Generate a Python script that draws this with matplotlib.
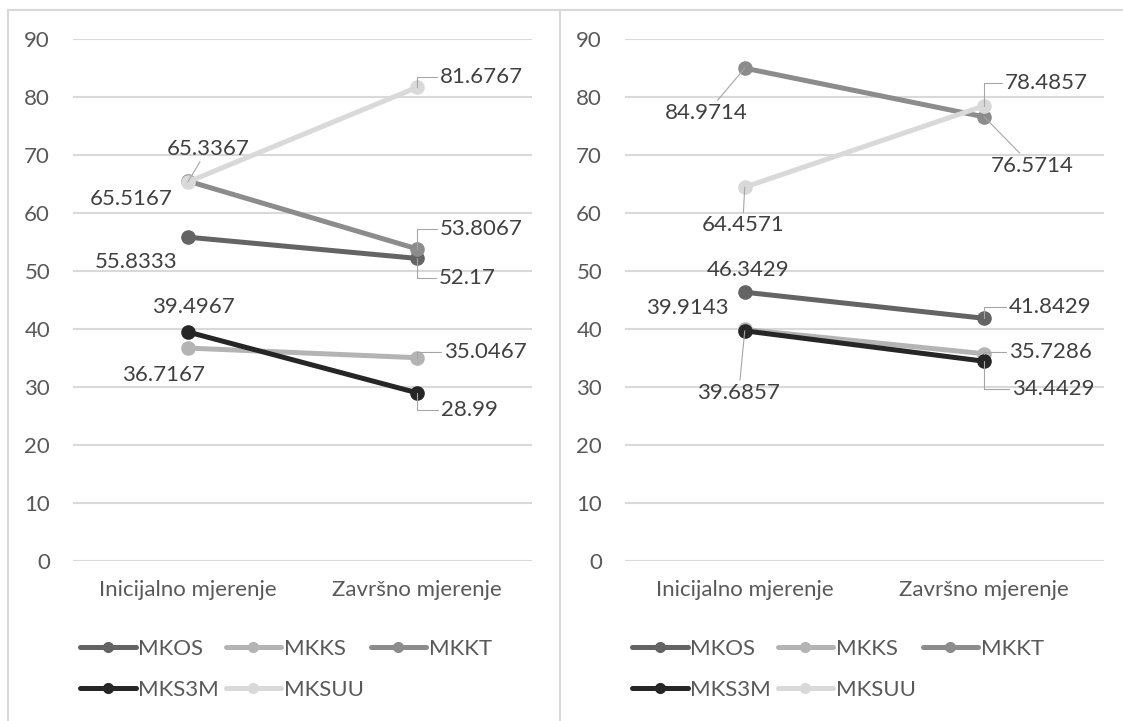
import matplotlib.pyplot as plt
from matplotlib.lines import Line2D

plt.rcParams['font.family'] = ['Lato', 'DejaVu Sans']

categories = ['Inicijalno mjerenje', 'Završno mjerenje']
series = ['MKOS', 'MKKS', 'MKKT', 'MKS3M', 'MKSUU']

left_values = {
    'MKOS': [55.8333, 52.17],
    'MKKS': [36.7167, 35.0467],
    'MKKT': [65.5167, 53.8067],
    'MKS3M': [39.4967, 28.99],
    'MKSUU': [65.3367, 81.6767],
}
right_values = {
    'MKOS': [46.3429, 41.8429],
    'MKKS': [39.9143, 35.7286],
    'MKKT': [84.9714, 76.5714],
    'MKS3M': [39.6857, 34.4429],
    'MKSUU': [64.4571, 78.4857],
}

colors = {
    'MKOS': '#646464',
    'MKKS': '#b4b4b4',
    'MKKT': '#8c8c8c',
    'MKS3M': '#262626',
    'MKSUU': '#d9d9d9',
}

# label placement: (dx, dy) in pixels from the point, leader style
left_labels = {
    ('MKOS', 0): (-52, -25, None),
    ('MKKS', 0): (-24, -27, None),
    ('MKKT', 0): (-57, -18, None),
    ('MKS3M', 0): (6, 25, None),
    ('MKSUU', 0): (20, 33, 'line'),
    ('MKOS', 1): (50, -20, 'elbow'),
    ('MKKS', 1): (68, 6, 'elbow'),
    ('MKKT', 1): (64, 20, 'elbow'),
    ('MKS3M', 1): (52, -17, 'elbow'),
    ('MKSUU', 1): (64, 10, 'elbow'),
}
right_labels = {
    ('MKOS', 0): (3, 22, None),
    ('MKKS', 0): (-57, 21, None),
    ('MKKT', 0): (-38, -45, 'line'),
    ('MKS3M', 0): (-6, -62, 'line'),
    ('MKSUU', 0): (-2, -38, 'line'),
    ('MKOS', 1): (66, 11, 'elbow'),
    ('MKKS', 1): (66, 2, 'elbow'),
    ('MKKT', 1): (48, -49, 'line'),
    ('MKS3M', 1): (69, -28, 'elbow'),
    ('MKSUU', 1): (62, 23, 'elbow'),
}

W, H = 1123, 721
FS = 16
fig = plt.figure(figsize=(W / 100, H / 100), dpi=100)
fig.patch.set_facecolor('white')

border = '#d9d9d9'
# panel frames
fig.add_artist(Line2D([8 / W, 8 / W], [0, 1 - 10 / H], color=border, lw=1.5))
fig.add_artist(Line2D([8 / W, 1], [1 - 10 / H, 1 - 10 / H], color=border, lw=1.5))
fig.add_artist(Line2D([560 / W, 560 / W], [0, 1 - 10 / H], color=border, lw=1.5))


def draw_panel(left_px, width_px, values, labels):
    ax = fig.add_axes([left_px / W, 1 - 561 / H, width_px / W, 522 / H])
    ax.set_xlim(-0.5, 1.5)
    ax.set_ylim(0, 90)
    ax.set_yticks(range(0, 91, 10))
    ax.set_xticks([0, 1])
    ax.set_xticklabels(categories)
    for s in ax.spines.values():
        s.set_visible(False)
    ax.grid(axis='y', color='#d9d9d9', lw=1.5)
    ax.set_axisbelow(True)
    ax.tick_params(axis='both', length=0, labelsize=FS, colors='#595959')
    ax.tick_params(axis='x', pad=14)
    ax.tick_params(axis='y', pad=16.5)

    for name in series:
        ax.plot([0, 1], values[name], color=colors[name], lw=3.6,
                marker='o', ms=9.5, solid_capstyle='round', zorder=3)

    for name in series:
        for i, v in enumerate(values[name]):
            dx, dy, leader = labels[(name, i)]
            kw = {}
            if leader == 'elbow':
                kw['arrowprops'] = dict(arrowstyle='-', color='#a6a6a6', lw=0.8,
                                        shrinkA=0, shrinkB=0,
                                        connectionstyle='angle,angleA=0,angleB=90,rad=0')
            elif leader == 'line':
                kw['arrowprops'] = dict(arrowstyle='-', color='#a6a6a6', lw=0.8,
                                        shrinkA=0, shrinkB=0)
            ax.annotate(f'{v:g}', (i, v), xytext=(dx, dy), textcoords='offset pixels',
                        ha='center', va='center', fontsize=FS, color='#404040',
                        zorder=4, **kw)

    handles = [Line2D([], [], color=colors[n], lw=3.6, marker='o', ms=7,
                      solid_capstyle='round') for n in series]
    order = [0, 3, 1, 4, 2]
    leg = ax.legend([handles[k] for k in order], [series[k] for k in order],
                    ncol=3, loc='upper left',
                    bbox_to_anchor=(7 / width_px, -0.149),
                    frameon=False, fontsize=FS, handlelength=2.5,
                    handletextpad=0.12, columnspacing=0.3, labelspacing=0.95,
                    borderpad=0, borderaxespad=0, numpoints=1)
    for t in leg.get_texts():
        t.set_color('#595959')
    return ax


draw_panel(73, 459, left_values, left_labels)
draw_panel(625, 479, right_values, right_labels)

fig.savefig('out.png', dpi=100, facecolor='white')
